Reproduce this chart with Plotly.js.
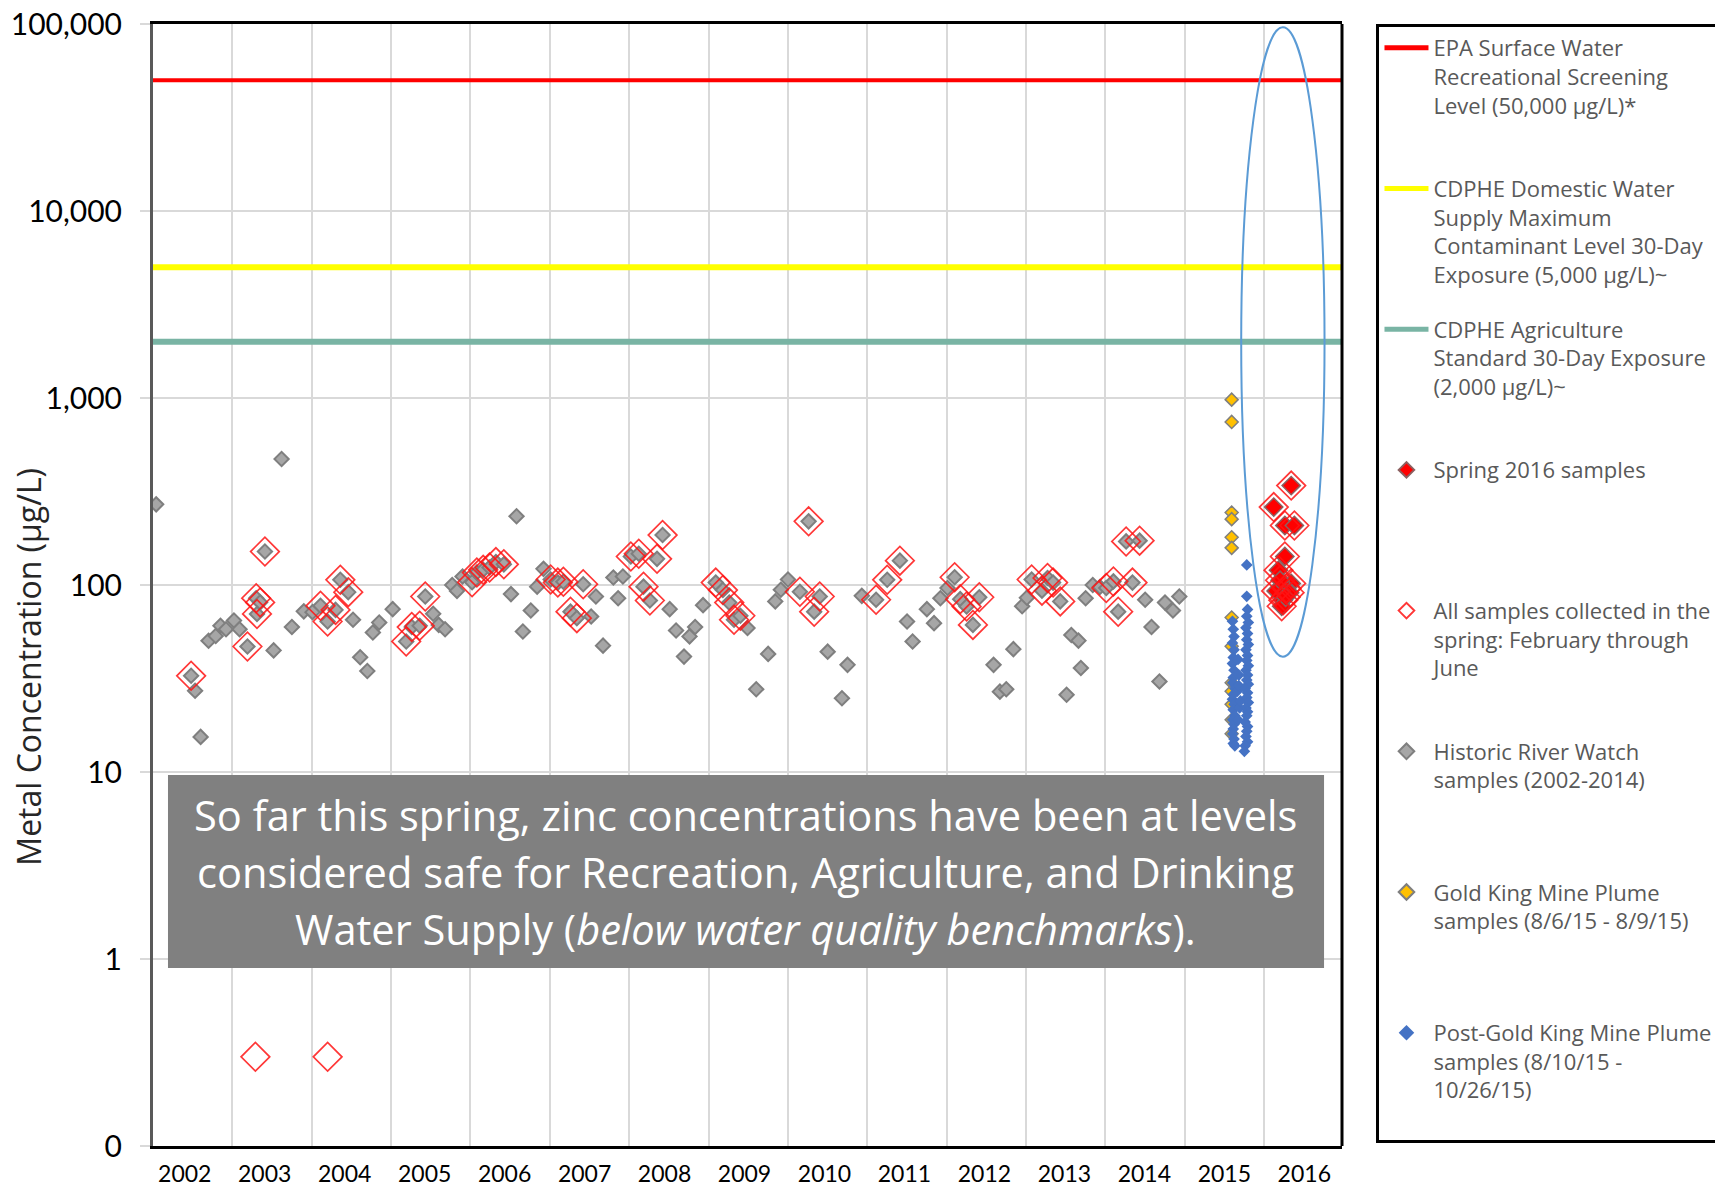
<!DOCTYPE html>
<html>
<head>
<meta charset="utf-8">
<script src="https://cdn.plot.ly/plotly-3.0.1.min.js"></script>
<style>
html,body{margin:0;padding:0;background:#ffffff;}
#chart{width:1715px;height:1190px;}
</style>
</head>
<body>
<div id="chart"></div>
<script>
// ---------------- data ----------------
const years = [2002,2003,2004,2005,2006,2007,2008,2009,2010,2011,2012,2013,2014,2015,2016];
const yTickVals = [0.1, 1, 10, 100, 1000, 10000, 100000];
const yTickText = ['0', '1', '10', '100', '1,000', '10,000', '100,000'];

// screening levels (µg/L)
const epaLevel = 50000;
const domesticLevel = 5000;
const agricultureLevel = 2000;

// Historic River Watch samples (2002-2014): decimal year, µg/L
const histX = [2002.04,2002.48,2002.53,2002.60,2002.70,2002.79,2002.85,2002.92,2003.02,2003.09,2003.19,2003.30,2003.35,2003.31,2003.41,2003.52,2003.62,2003.75,2003.90,2004.01,2004.11,2004.20,2004.30,2004.36,2004.46,2004.52,2004.61,2004.70,2004.77,2004.85,2005.02,2005.19,2005.26,2005.36,2005.43,2005.53,2005.60,2005.68,
2005.77,2005.83,2005.90,2006.02,2006.08,2006.16,2006.24,2006.32,2006.42,2006.51,2006.58,2006.66,2006.76,2006.84,2006.92,2007.01,2007.10,2007.17,2007.26,2007.34,2007.42,2007.52,2007.58,2007.67,2007.80,2007.86,2007.92,2008.02,2008.12,2008.18,2008.26,2008.35,2008.42,2008.51,2008.59,2008.69,2008.76,2008.83,2008.93,2009.09,2009.18,2009.26,2009.32,2009.40,
2009.49,2009.60,2009.75,2009.84,2009.91,2010.00,2010.15,2010.26,2010.33,2010.40,2010.50,2010.68,2010.75,2010.93,2011.11,2011.25,2011.41,2011.50,2011.57,2011.75,2011.84,2011.92,2012.01,2012.10,2012.17,2012.25,2012.33,2012.41,2012.59,2012.67,2012.75,2012.84,2012.95,2013.01,
2013.07,2013.20,2013.27,2013.34,2013.43,2013.51,2013.57,2013.66,2013.69,2013.75,2013.84,2013.93,2014.01,2014.10,2014.16,2014.26,2014.34,2014.43,2014.50,2014.58,2014.68,2014.75,2014.85,2014.93];
const histY = [270,32.7,27.2,15.4,50.3,53.4,60.5,58,64.6,58,46.9,85,80.7,70,151,44.7,472,59.6,72.3,71.6,77.4,63.8,73.6,106.6,91.6,65.2,41.1,34.7,55.7,63,74.3,49.9,59.6,60.5,86.8,70.2,61.2,58,
100,93,111,103.5,116.6,120.5,124,132.6,129,89.4,233,56.4,73.1,98,122,107,103,104,72,66.5,101,67.9,86.8,47.4,109.6,85,111,142,147,98,82.6,138,185,74.3,57.1,41.4,53.1,59.6,78,103,94,80.5,65.2,68.5,
58.9,27.7,42.8,81.7,94.3,107,92,219,72,86.8,44,24.8,37.4,87.5,83.4,106.6,135,63.8,49.9,74.3,62.5,85,96.3,110,84,76.7,61.2,86,37.4,26.9,27.7,45.4,77,85.5,
107,93.3,109,103,81.7,25.9,54,50.4,36,85,100,97.5,96.3,104.5,72,171,103,172.6,83.4,59.6,30.5,80.5,73.1,86.8];

// Gold King Mine Plume samples (8/6/15 - 8/9/15)
const goldX = [2015.59,2015.59,2015.59,2015.59,2015.59,2015.59,2015.59,2015.59,2015.59,2015.59,2015.59,2015.59,2015.59];
const goldY = [980,745,244,225,180,158,67,47,30,27,23,19,16];

// Post-Gold King Mine Plume samples (8/10/15 - 10/26/15)
const postX = [2015.60,2015.61,2015.62,2015.60,2015.62,2015.61,2015.60,2015.62,2015.61,2015.60,2015.63,2015.61,2015.60,2015.62,2015.61,2015.63,2015.60,2015.62,2015.61,2015.60,2015.62,2015.61,2015.63,
2015.67,2015.68,2015.66,2015.69,2015.67,2015.70,2015.68,
2015.78,2015.78,2015.79,2015.78,2015.80,2015.77,2015.79,2015.78,2015.80,2015.77,2015.79,2015.78,2015.80,2015.77,2015.79,2015.78,2015.80,2015.76,2015.79,2015.78,2015.80,2015.77,2015.79,2015.78,2015.76,2015.79,2015.78,2015.77,2015.79,2015.76,2015.75];
const postY = [64,58,53,49,45,41,38,35,32,30,28,26,24.5,23,21.5,20,19,18,17,16,15,14.2,13.8,
40,33,27,22,19,24,29,
128,87,74,68,63,59,55,51,48,45,42,39.5,37,35,33,31,29.5,28,26.5,25,23.5,22,21,20,18.5,17.5,16.5,15.5,14.5,13.8,12.9];

// Spring 2016 samples
const s16X = [2016.34,2016.12,2016.26,2016.38,2016.26,2016.18,2016.34,2016.28,2016.15,2016.32,2016.24,2016.22,2016.27,2016.20];
const s16Y = [340,261,208,208,142,120,102,96,93,91,83,77,86,106];

// All samples collected in the spring (February through June)
const springX = [2002.48,2003.19,2003.30,2003.35,2003.31,2003.41,2003.29,
2004.11,2004.20,2004.30,2004.36,2004.46,2004.20,
2005.19,2005.26,2005.36,2005.43,
2006.02,2006.08,2006.16,2006.24,2006.32,2006.42,
2007.01,2007.10,2007.17,2007.26,2007.34,2007.42,
2008.02,2008.12,2008.18,2008.26,2008.35,2008.42,
2009.09,2009.18,2009.26,2009.32,2009.40,
2010.15,2010.26,2010.33,2010.40,
2011.11,2011.25,2011.41,
2012.10,2012.17,2012.25,2012.33,2012.41,
2013.07,2013.20,2013.27,2013.34,2013.43,
2014.01,2014.10,2014.16,2014.26,2014.34,2014.43,
2016.34,2016.12,2016.26,2016.38,2016.26,2016.18,2016.34,2016.28,2016.15,2016.32,2016.24,2016.22,2016.27,2016.20];
const springY = [32.7,46.9,85,80.7,70,151,0.3,
77.4,63.8,73.6,106.6,91.6,0.3,
49.9,59.6,60.5,86.8,
103.5,116.6,120.5,124,132.6,129,
107,103,104,72,66.5,101,
142,147,98,82.6,138,185,
103,94,80.5,65.2,68.5,
92,219,72,86.8,
83.4,106.6,135,
110,84,76.7,61.2,86,
107,93.3,109,103,81.7,
96.3,104.5,72,171,103,172.6,
340,261,208,208,142,120,102,96,93,91,83,77,86,106];

// legend labels
const legendNames = [
  'EPA Surface Water<br>Recreational Screening<br>Level (50,000 µg/L)*<br>\u00a0',
  'CDPHE Domestic Water<br>Supply Maximum<br>Contaminant Level 30-Day<br>Exposure (5,000 µg/L)~',
  'CDPHE Agriculture<br>Standard 30-Day Exposure<br>(2,000 µg/L)~<br>\u00a0',
  'Spring 2016 samples<br>\u00a0<br>\u00a0<br>\u00a0',
  'All samples collected in the<br>spring: February through<br>June<br>\u00a0',
  'Historic River Watch<br>samples (2002-2014)<br>\u00a0<br>\u00a0',
  'Gold King Mine Plume<br>samples (8/6/15 - 8/9/15)<br>\u00a0<br>\u00a0',
  'Post-Gold King Mine Plume<br>samples (8/10/15 -<br>10/26/15)<br>\u00a0'
];
// ---------------------------------------

const xSpan = [2002.0, 2016.98];
const labelPos = years.map(y => y + 0.40 + (y - 2002) * 0.0075);
const gridYears = years.slice(1);

function hline(level, name, color, width, rank) {
  return {
    x: xSpan, y: [level, level], xaxis: 'x2', mode: 'lines', name: name,
    line: {color: color, width: width}, legendrank: rank, legendgroup: 'g' + rank,
    hoverinfo: 'skip'
  };
}

const traces = [
  hline(epaLevel, legendNames[0], '#FF0000', 4, 1),
  hline(domesticLevel, legendNames[1], '#FFFF00', 6, 2),
  hline(agricultureLevel, legendNames[2], '#79B4A4', 6, 3),
  {
    x: histX, y: histY, mode: 'markers', name: legendNames[5], legendrank: 6, legendgroup: 'g6',
    marker: {symbol: 'diamond', size: 11, color: '#A6A6A6', line: {color: '#7F7F7F', width: 2}}
  },
  {
    x: goldX, y: goldY, mode: 'markers', name: legendNames[6], legendrank: 7, legendgroup: 'g7',
    marker: {symbol: 'diamond', size: 10, color: '#FFC000', line: {color: '#7F7F7F', width: 1.5}}
  },
  {
    x: postX, y: postY, mode: 'markers', name: legendNames[7], legendrank: 8, legendgroup: 'g8',
    marker: {symbol: 'diamond', size: 9, color: '#4472C4', line: {width: 0}}
  },
  {
    x: s16X, y: s16Y, mode: 'markers', name: legendNames[3], legendrank: 4, legendgroup: 'g4',
    marker: {symbol: 'diamond', size: 14, color: '#FF0000', line: {color: '#8C6060', width: 1.5}}
  },
  {
    x: springX, y: springY, mode: 'markers', name: legendNames[4], legendrank: 5, legendgroup: 'g5',
    marker: {symbol: 'diamond-open', size: 22, color: 'rgba(255,20,20,0.85)', line: {color: 'rgba(255,20,20,0.85)', width: 1.7}}
  }
];

const fig = {
  width: 1715, height: 1190,
  margin: {l: 153, r: 373, t: 24, b: 44, autoexpand: false},
  paper_bgcolor: '#ffffff', plot_bgcolor: '#ffffff',
  showlegend: true,
  hovermode: false,
  legend: {
    x: 1.029, xanchor: 'left', y: 1, yanchor: 'top',
    bordercolor: '#000000', borderwidth: 3, bgcolor: '#ffffff',
    font: {family: 'Open Sans', size: 22, color: '#595959'},
    tracegroupgap: 23.3, valign: 'top', itemwidth: 44, itemsizing: 'constant',
    traceorder: 'grouped'
  },
  xaxis: {
    type: 'linear', range: xSpan, tickmode: 'array', tickvals: gridYears,
    showticklabels: false, ticks: '', showgrid: true, gridcolor: '#D9D9D9', gridwidth: 2,
    showline: true, linecolor: '#000000', linewidth: 3, mirror: true, zeroline: false, fixedrange: true
  },
  xaxis2: {
    type: 'linear', overlaying: 'x', anchor: 'y', side: 'bottom', range: xSpan,
    tickmode: 'array', tickvals: labelPos, ticktext: years.map(String),
    showgrid: false, showline: false, zeroline: false, ticks: '',
    tickfont: {family: 'Lato', size: 23, color: '#000000'}, ticklabelstandoff: 12, fixedrange: true
  },
  yaxis: {
    type: 'log', range: [-1, 5], tickmode: 'array', tickvals: yTickVals, ticktext: yTickText,
    showgrid: true, gridcolor: '#D9D9D9', gridwidth: 2,
    showline: true, linecolor: '#595959', linewidth: 3, zeroline: false,
    ticks: 'outside', ticklen: 10, tickcolor: '#D9D9D9', tickwidth: 2, ticklabelstandoff: 12,
    tickfont: {family: 'Lato', size: 30, color: '#000000'}, fixedrange: true
  },
  shapes: [
    {type: 'line', xref: 'paper', yref: 'paper', x0: 1, x1: 1, y0: 0, y1: 1, line: {color: '#000000', width: 3}},
    {type: 'rect', xref: 'paper', yref: 'paper', x0: 0.0126, x1: 0.9849, y0: 0.1586, y1: 0.3307,
     fillcolor: '#808080', line: {width: 0}, layer: 'above'},
    {type: 'circle', xref: 'x', yref: 'paper', x0: 2015.71, x1: 2016.76, y0: 0.4361, y1: 0.997,
     line: {color: '#5B9BD5', width: 2}, fillcolor: 'rgba(0,0,0,0)', layer: 'above'}
  ],
  annotations: [
    {text: 'Metal Concentration (µg/L)', xref: 'paper', yref: 'paper', x: -0.1045, y: 0.427,
     xanchor: 'center', yanchor: 'middle', textangle: -90, showarrow: false,
     font: {family: 'Open Sans', size: 32, color: '#262626'}},
    {text: 'So far this spring, zinc concentrations have been at levels', xref: 'paper', yref: 'paper',
     x: 0.4987, y: 0.295, xanchor: 'center', yanchor: 'middle', showarrow: false,
     font: {family: 'Open Sans', size: 41.6, color: '#ffffff'}},
    {text: 'considered safe for Recreation, Agriculture, and Drinking', xref: 'paper', yref: 'paper',
     x: 0.4987, y: 0.2442, xanchor: 'center', yanchor: 'middle', showarrow: false,
     font: {family: 'Open Sans', size: 41.6, color: '#ffffff'}},
    {text: 'Water Supply (<i>below water quality benchmarks</i>).', xref: 'paper', yref: 'paper',
     x: 0.4987, y: 0.1934, xanchor: 'center', yanchor: 'middle', showarrow: false,
     font: {family: 'Open Sans', size: 41.6, color: '#ffffff'}}
  ]
};

Plotly.newPlot('chart', traces, fig, {displayModeBar: false, staticPlot: true});
</script>
</body>
</html>
